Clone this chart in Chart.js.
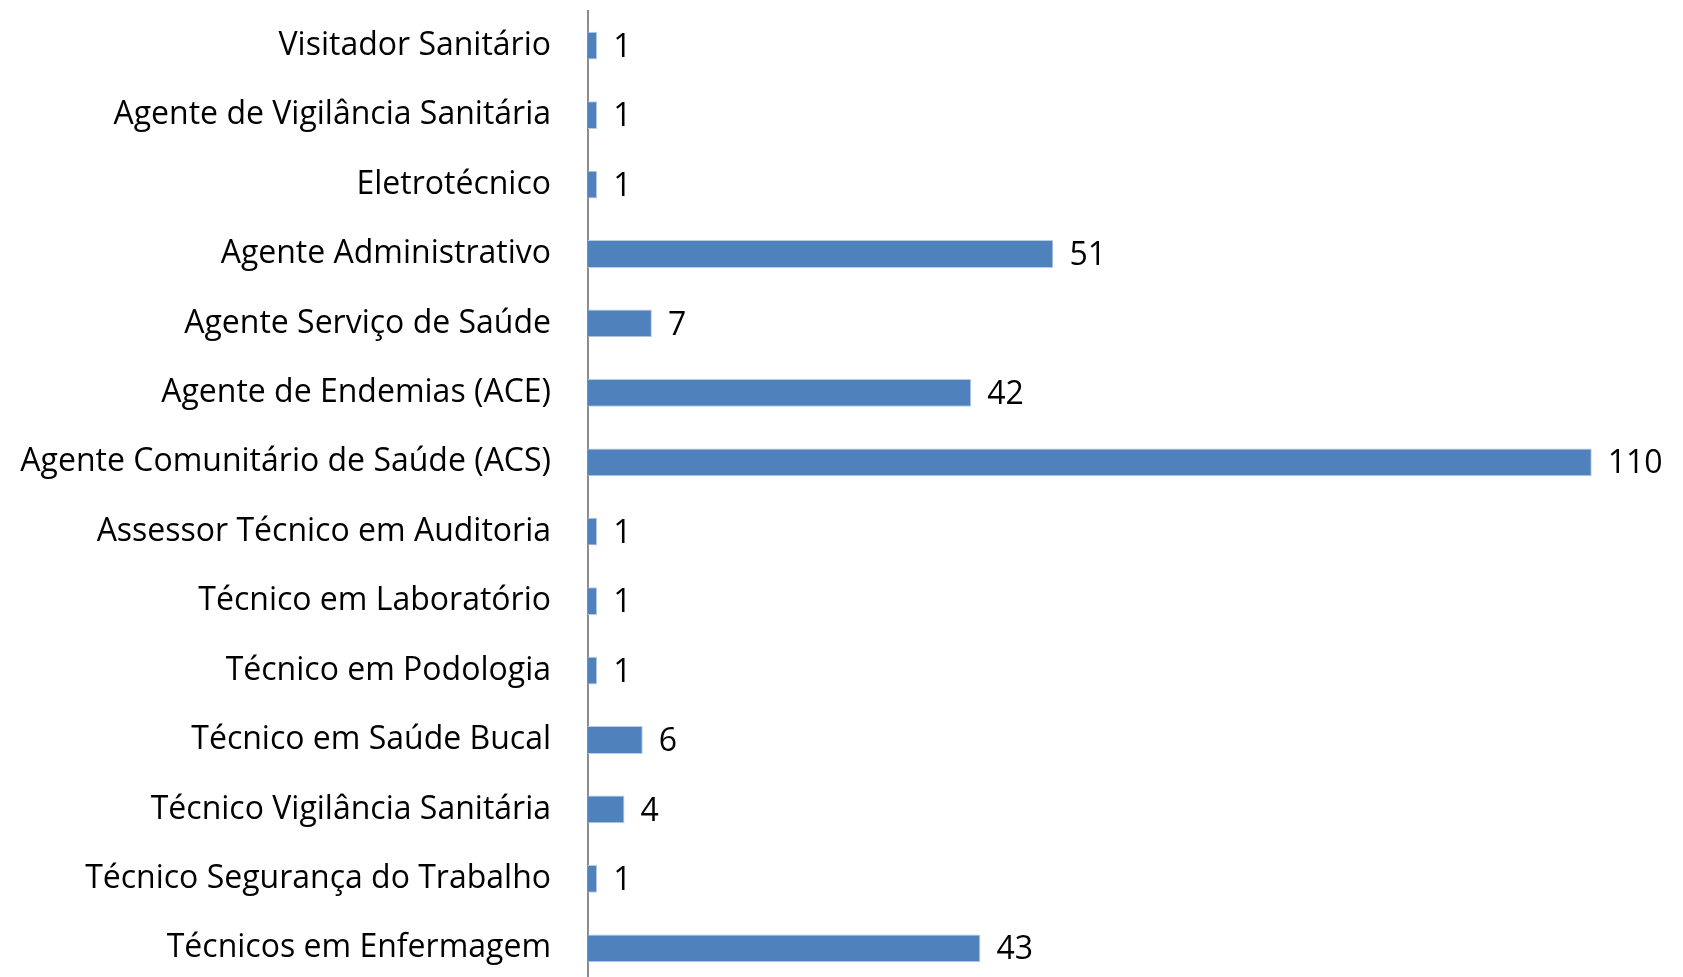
<!DOCTYPE html>
<html>
<head>
<meta charset="utf-8">
<script src="https://cdn.jsdelivr.net/npm/chart.js@4"></script>
<style>
    body { margin: 0; overflow: hidden; background: #fff; }
    canvas { display: block; }
</style>
</head>
<body>
<canvas id="cargosChart" width="1683" height="990"></canvas>
<script>
const categories = [
    'Visitador Sanitário',
    'Agente de Vigilância Sanitária',
    'Eletrotécnico',
    'Agente Administrativo',
    'Agente Serviço de Saúde',
    'Agente de Endemias (ACE)',
    'Agente Comunitário de Saúde (ACS)',
    'Assessor Técnico em Auditoria',
    'Técnico em Laboratório',
    'Técnico em Podologia',
    'Técnico em Saúde Bucal',
    'Técnico Vigilância Sanitária',
    'Técnico Segurança do Trabalho',
    'Técnicos em Enfermagem'
];
const totals = [1, 1, 1, 51, 7, 42, 110, 1, 1, 1, 6, 4, 1, 43];

const fontFamily = '"Open Sans", "Noto Sans", sans-serif';
const fontSize = 32;

// numbers to the right of each bar
const valueLabels = {
    id: 'valueLabels',
    afterDatasetsDraw(chart) {
        const ctx = chart.ctx;
        const meta = chart.getDatasetMeta(0);
        ctx.save();
        ctx.font = fontSize + 'px ' + fontFamily;
        ctx.fillStyle = '#000';
        ctx.textAlign = 'left';
        ctx.textBaseline = 'middle';
        meta.data.forEach((bar, i) => {
            ctx.fillText(String(totals[i]), bar.x + 16, bar.y + 2);
        });
        ctx.restore();
    }
};

new Chart(document.getElementById('cargosChart').getContext('2d'), {
    type: 'bar',
    data: {
        labels: categories,
        datasets: [{
            data: totals,
            backgroundColor: '#4F81BD',
            borderColor: '#B9CDE5',
            borderWidth: 1,
            barPercentage: 0.4,
            categoryPercentage: 1
        }]
    },
    options: {
        indexAxis: 'y',
        responsive: false,
        animation: false,
        layout: { autoPadding: false, padding: { top: 11, bottom: 7, left: 0, right: 0 } },
        plugins: {
            legend: { display: false },
            tooltip: { enabled: false }
        },
        scales: {
            x: {
                display: false,
                min: 0,
                max: 120
            },
            y: {
                afterFit(axis) {
                    axis.width = 588;
                    axis.paddingTop = 0;
                    axis.paddingBottom = 0;
                },
                grid: { display: false, drawTicks: false },
                border: { display: true, color: '#8C8C8C', width: 2 },
                ticks: {
                    padding: 37,
                    color: '#000',
                    font: { family: fontFamily, size: fontSize }
                }
            }
        }
    },
    plugins: [valueLabels]
});
</script>
</body>
</html>
